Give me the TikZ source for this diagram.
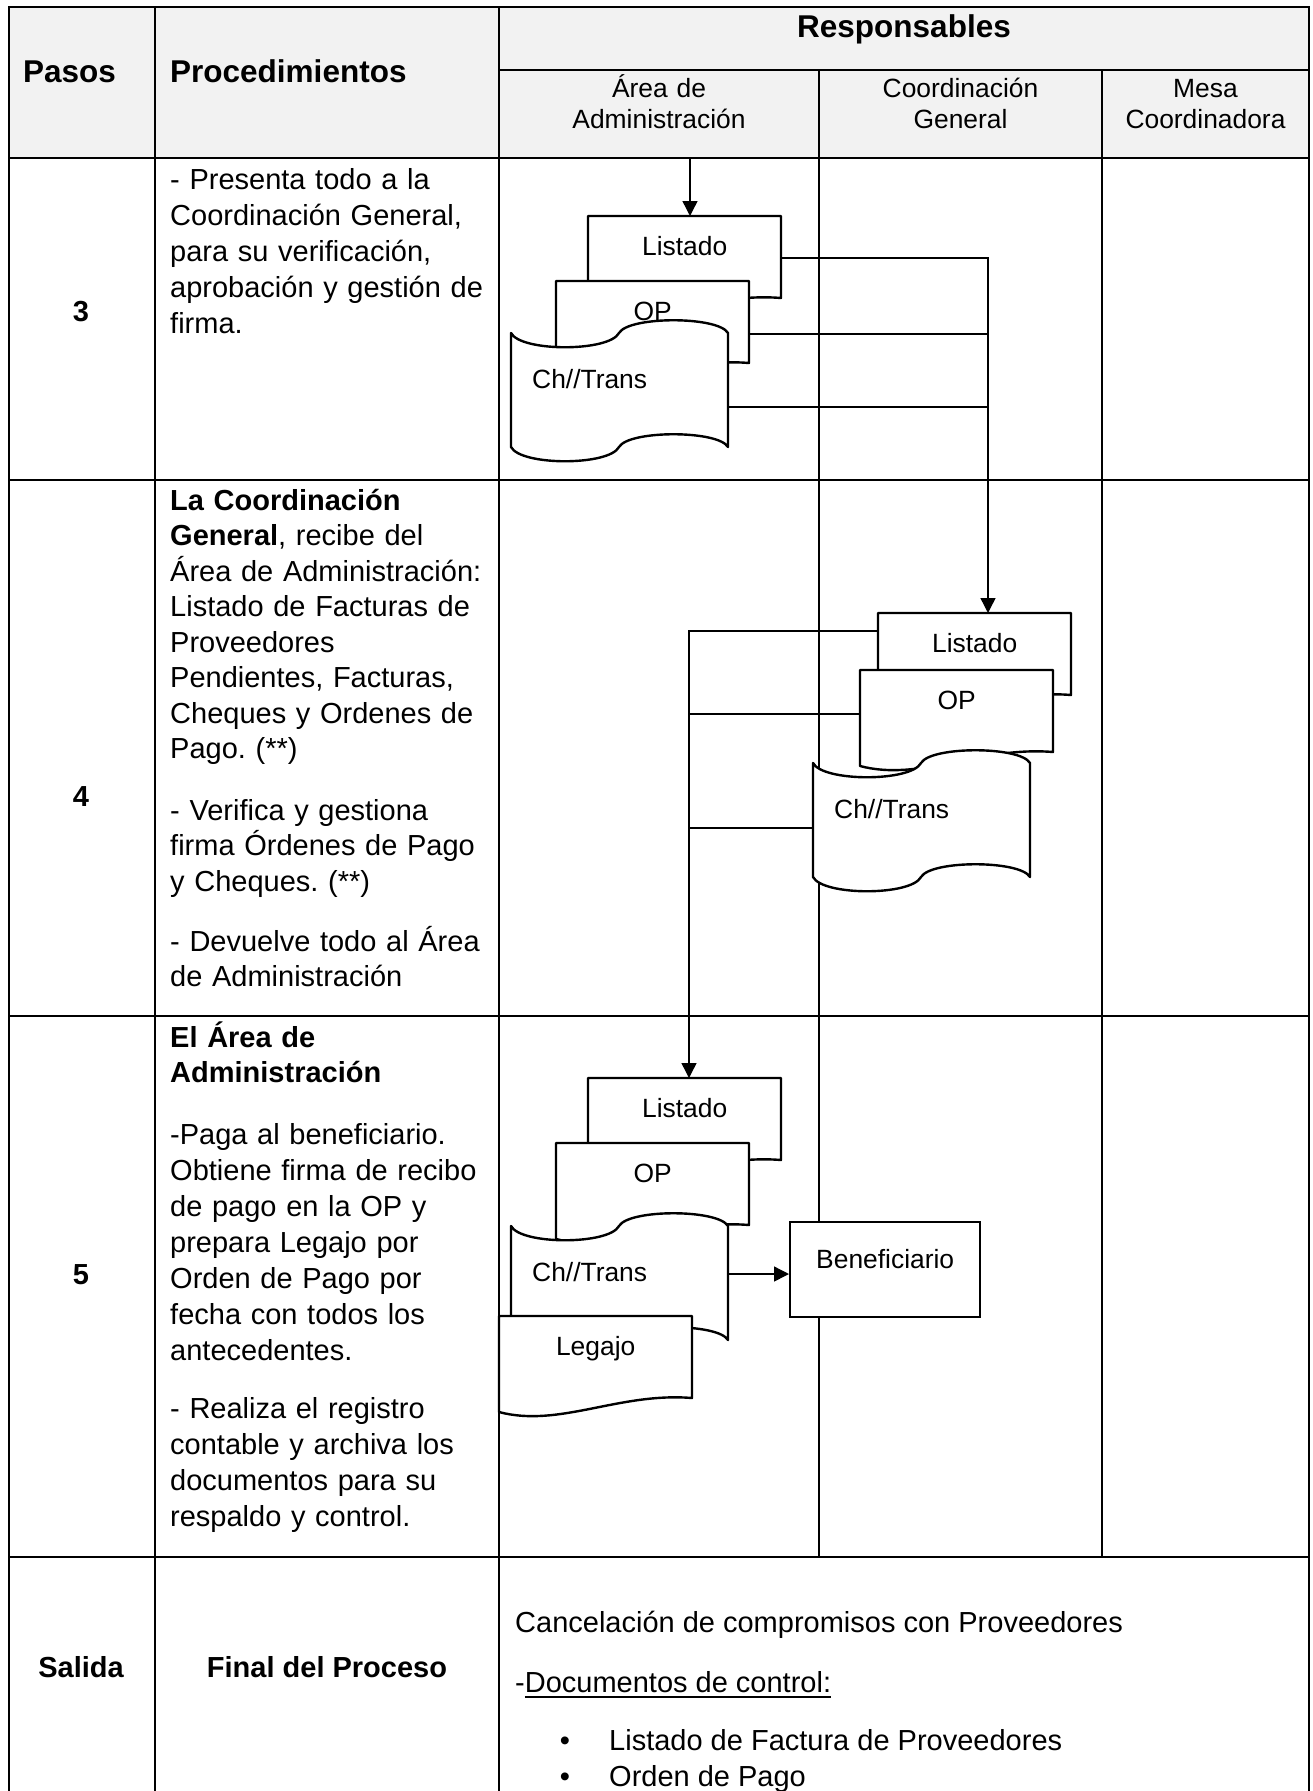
\documentclass[tikz,border=0pt]{standalone}
\usepackage{fontspec}
\setmainfont{Liberation Sans}
\usetikzlibrary{calc,arrows.meta}
\frenchspacing

% document symbol: rectangle with a wavy lower edge; the named node covers its box
\newcommand\docshape[4]{%
  \begin{scope}[shift={(#2,#3)}]
    \filldraw[shapeline] (0,0) -- (193,0) -- (193,82)
      .. controls (120,76) and (60,112) .. (0,96) -- cycle;
    \node[doclabel] (#1) at (0,0) {#4};
  \end{scope}}

% punched-tape symbol for cheques / transfers
\newcommand\tapeshape[4]{%
  \begin{scope}[shift={(#2,#3)}]
    \filldraw[shapeline] (0,0) .. controls (10,19) and (98,19) .. (108,0)
      .. controls (118,-17) and (207,-17) .. (217,0) -- (217,114)
      .. controls (207,97) and (118,97) .. (108,114)
      .. controls (98,133) and (10,133) .. (0,114) -- cycle;
    \node[tapelabel] (#1) at (0,0) {\hspace*{21pt}#4};
  \end{scope}}

% underlined text with a heavier rule
\newcommand\ulined[1]{\setbox0\hbox{#1}\rlap{\rule[-5.5pt]{\wd0}{1.8pt}}\box0}

\begin{document}
\begin{tikzpicture}[x=1pt,y=-1pt,
  grid/.style={line width=2.8pt, line cap=rect},
  hdrfill/.style={fill=black!5},
  shapeline/.style={draw=black, fill=white, line width=2.4pt, line join=round},
  conn/.style={draw=black, line width=1.4pt},
  arrowed/.style={-{Triangle[length=15pt,width=15pt]}},
  lblfont/.style={font=\fontsize{26.4}{31}\selectfont},
  doclabel/.style={lblfont, anchor=north west, inner sep=0pt, minimum width=193pt,
    text height=39pt, text depth=57pt},
  tapelabel/.style={lblfont, anchor=north west, inner sep=0pt, text width=217pt,
    align=left, text height=55pt, text depth=59pt},
  benbox/.style={lblfont, draw=black, fill=white, line width=2.4pt, anchor=north west,
    inner sep=0pt, minimum width=190pt, text height=46pt, text depth=49pt},
  head/.style={inner sep=0pt, font=\fontsize{31.5}{36}\selectfont\bfseries},
  subhead/.style={anchor=base, inner sep=0pt, text width=300pt, align=center,
    font=\fontsize{26.4}{31}\selectfont},
  stepnum/.style={anchor=base, inner sep=0pt, font=\fontsize{29}{35}\selectfont\bfseries},
  body/.style={anchor=base west, inner sep=0pt, text width=340pt, align=left,
    font=\fontsize{29}{35.5}\selectfont},
  bodywide/.style={body, font=\fontsize{29}{36}\selectfont},
  bodyloose/.style={body, font=\fontsize{29}{36.2}\selectfont},
  plain/.style={anchor=base west, inner sep=0pt, font=\fontsize{29}{35}\selectfont}]

\useasboundingbox (0,0) rectangle (1313,1791);
\clip (0,0) rectangle (1313,1791);
\fill[white] (0,0) rectangle (1313,1791);

% ---------- table ----------
\fill[hdrfill] (9,7) rectangle (1309,158);
\draw[grid] (9,7) -- (1309,7);
\draw[grid] (499,70) -- (1309,70);
\draw[grid] (9,158) -- (1309,158);
\draw[grid] (9,480) -- (1309,480);
\draw[grid] (9,1016) -- (1309,1016);
\draw[grid] (9,1557) -- (1309,1557);
\foreach \x in {9,155,499,1309} \draw[grid] (\x,7) -- (\x,1800);
\foreach \x in {819,1102} \draw[grid] (\x,70) -- (\x,1557);

% ---------- header ----------
\node[head, anchor=base west] (hpasos) at (23,82) {Pasos};
\node[head, anchor=base west] (hproc) at (170,82) {Procedimientos};
\node[head, anchor=base] (hresp) at (904,37) {Responsables};
\node[subhead] (harea) at (659,97) {Área de\\Administración};
\node[subhead] (hcoord) at (960.5,97) {Coordinación\\General};
\node[subhead] (hmesa) at (1205.5,97) {Mesa\\Coordinadora};

% ---------- step column ----------
\node[stepnum] (s3) at (81,321) {3};
\node[stepnum] (s4) at (81,806) {4};
\node[stepnum] (s5) at (81,1284) {5};
\node[stepnum] (ssal) at (81,1677) {Salida};
\node[stepnum] (sfin) at (327,1677) {Final del Proceso};

% ---------- procedures ----------
\node[bodywide] (p3) at (170,189) {- Presenta todo a la\\Coordinación General,\\para su verificación,\\aprobación y gestión de\\firma.};
\node[body] (p4a) at (170,510) {\textbf{La Coordinación}\\\textbf{General}, recibe del\\Área de Administración:\\Listado de Facturas de\\Proveedores\\Pendientes, Facturas,\\Cheques y Ordenes de\\Pago. (**)};
\node[body] (p4b) at (170,820) {- Verifica y gestiona\\firma Órdenes de Pago\\y Cheques. (**)};
\node[body] (p4c) at (170,951) {- Devuelve todo al Área\\de Administración};
\node[body] (p5a) at (170,1047) {\textbf{El Área de}\\\textbf{Administración}};
\node[bodywide] (p5b) at (170,1144) {-Paga al beneficiario.\\Obtiene firma de recibo\\de pago en la OP y\\prepara Legajo por\\Orden de Pago por\\fecha con todos los\\antecedentes.};
\node[bodyloose] (p5c) at (170,1418) {- Realiza el registro\\contable y archiva los\\documentos para su\\respaldo y control.};

% ---------- output row ----------
\node[plain] (out1) at (515,1632) {Cancelación de compromisos con Proveedores};
\node[plain] (out2) at (515,1692) {-\ulined{Documentos de control:}};
\node[plain, anchor=base] (bul1) at (565,1750) {•};
\node[plain] (item1) at (609,1750) {Listado de Factura de Proveedores};
\node[plain, anchor=base] (bul2) at (565,1786) {•};
\node[plain] (item2) at (609,1786) {Orden de Pago};

% ---------- step 3: documents sent to the Coordinación General ----------
\docshape{lst3}{588}{216}{Listado}
\docshape{op3}{556}{281}{OP}
\tapeshape{tape3}{511}{333}{Ch//Trans}

% ---------- step 4: documents checked and returned ----------
\docshape{lst4}{878}{613}{Listado}
\docshape{op4}{860}{670}{OP}
\tapeshape{tape4}{813}{763}{Ch//Trans}

% ---------- step 5: payment and filing ----------
\docshape{lst5}{588}{1078}{Listado}
\docshape{op5}{556}{1143}{OP}
\tapeshape{tape5}{511}{1226}{Ch//Trans}
\docshape{leg5}{499}{1316}{Legajo}
\node[benbox] (ben) at (789,1221) {Beneficiario};

% ---------- connectors ----------
\coordinate (in3) at (690,158);
\draw[conn,arrowed] (in3) -- (in3 |- lst3.north);

\coordinate (lst3o) at ($(lst3.north east)+(0,42)$);
\coordinate (op3o) at ($(op3.north east)+(0,53)$);
\coordinate (tape3o) at ($(tape3.north east)+(0,74)$);
\coordinate (lst4i) at ($(lst4.north west)+(110,0)$);
\draw[conn,arrowed] (lst3o) -| (lst4i);
\draw[conn] (op3o) -- (op3o -| lst4i);
\draw[conn] (tape3o) -- (tape3o -| lst4i);

\coordinate (lst4o) at ($(lst4.north west)+(0,18)$);
\coordinate (op4o) at ($(op4.north west)+(0,44)$);
\coordinate (tape4o) at ($(tape4.north west)+(0,65)$);
\coordinate (lst5i) at ($(lst5.north west)+(101,0)$);
\draw[conn,arrowed] (lst4o) -| (lst5i);
\draw[conn] (op4o) -- (op4o -| lst5i);
\draw[conn] (tape4o) -- (tape4o -| lst5i);

\coordinate (tape5o) at ($(tape5.north east)+(0,48)$);
\draw[conn,arrowed] (tape5o) -- (tape5o -| ben.west);

\end{tikzpicture}
\end{document}
